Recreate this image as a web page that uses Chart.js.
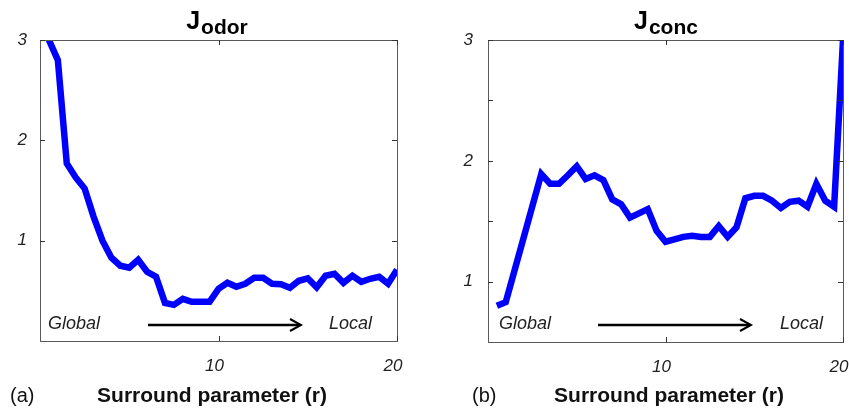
<!DOCTYPE html>
<html>
<head>
<meta charset="utf-8">
<script src="https://cdn.jsdelivr.net/npm/chart.js@4/dist/chart.umd.min.js"></script>
<style>
  html, body { margin: 0; padding: 0; background: #ffffff; }
  #wrap { position: relative; width: 849px; height: 412px; overflow: hidden; }
  canvas { position: absolute; top: 0; }
</style>
</head>
<body>
<div id="wrap">
  <canvas id="odor" style="left:0px;width:425px;height:412px"></canvas>
  <canvas id="conc" style="left:425px;width:424px;height:412px"></canvas>
</div>
<script>
// Surround parameter values (r)
const surround = [0.5, 1, 1.5, 2, 2.5, 3, 3.5, 4, 4.5, 5, 5.5, 6, 6.5, 7, 7.5, 8, 8.5, 9, 9.5, 10,
                  10.5, 11, 11.5, 12, 12.5, 13, 13.5, 14, 14.5, 15, 15.5, 16, 16.5, 17, 17.5, 18, 18.5, 19, 19.5, 20];

// Cost J_odor against r
const jOdor = [3.0, 2.80, 1.77, 1.63, 1.52, 1.24, 1.00, 0.83, 0.75, 0.73, 0.81, 0.69, 0.64, 0.38, 0.36, 0.42, 0.39, 0.39, 0.39, 0.52,
               0.58, 0.54, 0.57, 0.63, 0.63, 0.57, 0.565, 0.53, 0.60, 0.625, 0.535, 0.65, 0.67, 0.58, 0.65, 0.59, 0.62, 0.64, 0.57, 0.71];

// Cost J_conc against r
const jConc = [0.80, 0.83, 1.095, 1.36, 1.625, 1.89, 1.81, 1.81, 1.88, 1.955, 1.85, 1.88, 1.84, 1.68, 1.64, 1.53, 1.565, 1.60, 1.42, 1.33,
               1.35, 1.37, 1.38, 1.37, 1.37, 1.46, 1.37, 1.45, 1.69, 1.71, 1.71, 1.67, 1.61, 1.66, 1.67, 1.62, 1.81, 1.67, 1.62, 3.0];

// Tick positions
const xTicks = [10, 20];
const odorYTicks = [1, 2, 3];
const concYTicks = [1, 1.5, 2, 2.5, 3];

const FONT = "'Liberation Sans', Arial, sans-serif";

// Frame, inward tick marks, title with subscript, annotations and axis caption
const decorations = {
  id: 'decorations',
  afterDraw(chart, args, o) {
    const ctx = chart.ctx;
    const a = chart.chartArea;
    const xs = chart.scales.x, ys = chart.scales.y;
    ctx.save();

    // box
    ctx.strokeStyle = '#5a5a5a';
    ctx.lineWidth = 1;
    ctx.strokeRect(Math.round(a.left) + 0.5, Math.round(a.top) + 0.5,
                   Math.round(a.right - a.left), Math.round(a.bottom - a.top));

    // inward ticks on all four sides
    ctx.strokeStyle = '#333';
    ctx.beginPath();
    xs.ticks.forEach(t => {
      const px = Math.round(xs.getPixelForValue(t.value)) + 0.5;
      ctx.moveTo(px, a.bottom); ctx.lineTo(px, a.bottom - 5);
      ctx.moveTo(px, a.top); ctx.lineTo(px, a.top + 5);
    });
    ys.ticks.forEach(t => {
      const py = Math.round(ys.getPixelForValue(t.value)) + 0.5;
      ctx.moveTo(a.left, py); ctx.lineTo(a.left + 5, py);
      ctx.moveTo(a.right, py); ctx.lineTo(a.right - 5, py);
    });
    ctx.stroke();

    // title: J with bold subscript
    ctx.fillStyle = '#000';
    ctx.textBaseline = 'alphabetic';
    ctx.font = 'bold 25px ' + FONT;
    const wJ = ctx.measureText('J').width;
    ctx.font = 'bold 21px ' + FONT;
    const wS = ctx.measureText(o.sub).width;
    const cx = (a.left + a.right) / 2 + o.titleShift;
    const x0 = cx - (wJ + wS) / 2;
    ctx.font = 'bold 25px ' + FONT;
    ctx.textAlign = 'left';
    ctx.fillText('J', x0, 29);
    ctx.font = 'bold 21px ' + FONT;
    ctx.fillText(o.sub, x0 + wJ + 1, 34);

    // Global -> Local annotation
    ctx.fillStyle = '#222';
    ctx.font = 'italic 18px ' + FONT;
    ctx.textBaseline = 'middle';
    ctx.textAlign = 'left';
    ctx.fillText('Global', a.left + o.globalX, 324);
    ctx.textAlign = 'right';
    ctx.fillText('Local', a.left + o.localX, 324);

    const ax1 = a.left + o.arrowX1, ax2 = a.left + o.arrowX2, ay = 325;
    ctx.strokeStyle = '#000';
    ctx.lineWidth = 2.5;
    ctx.beginPath();
    ctx.moveTo(ax1, ay); ctx.lineTo(ax2 - 1, ay);
    ctx.stroke();
    ctx.lineWidth = 2;
    ctx.beginPath();
    ctx.moveTo(ax2 - 11, ay - 6); ctx.lineTo(ax2, ay); ctx.lineTo(ax2 - 11, ay + 6);
    ctx.stroke();

    // panel letter and axis caption
    ctx.fillStyle = '#111';
    ctx.textBaseline = 'alphabetic';
    ctx.textAlign = 'left';
    ctx.font = '20px ' + FONT;
    ctx.fillText(o.letter, o.letterX, 402);
    ctx.font = 'bold 21px ' + FONT;
    ctx.textAlign = 'center';
    ctx.fillText('Surround parameter (r)', o.captionX, 402);

    ctx.restore();
  }
};

function makeChart(id, values, yMin, yTicks, pad, yWidth, xHeight, labelPad, deco) {
  return new Chart(document.getElementById(id), {
    type: 'line',
    data: {
      datasets: [{
        data: surround.map((r, i) => ({ x: r, y: values[i] })),
        borderColor: '#0000ff',
        borderWidth: 6.5,
        pointRadius: 0,
        tension: 0,
        fill: false,
        clip: 0,
        borderJoinStyle: 'miter'
      }]
    },
    options: {
      responsive: false,
      animation: false,
      events: [],
      layout: { padding: pad },
      plugins: {
        legend: { display: false },
        tooltip: { enabled: false },
        title: { display: false },
        decorations: deco
      },
      scales: {
        x: {
          type: 'linear',
          min: 0, max: 20,
          grid: { display: false, drawTicks: false },
          border: { display: false },
          afterFit: s => { s.height = xHeight; s.paddingLeft = 0; s.paddingRight = 0; },
          afterBuildTicks: s => { s.ticks = xTicks.map(v => ({ value: v })); },
          ticks: {
            padding: 15,
            labelOffset: -4,
            color: '#222',
            font: { family: FONT, size: 17, style: 'italic' },
            maxRotation: 0,
            autoSkip: false,
            callback: v => String(v)
          }
        },
        y: {
          type: 'linear',
          min: yMin, max: 3,
          grid: { display: false, drawTicks: false },
          border: { display: false },
          afterFit: s => { s.width = yWidth; s.paddingTop = 0; s.paddingBottom = 0; },
          afterBuildTicks: s => { s.ticks = yTicks.map(v => ({ value: v })); },
          ticks: {
            padding: labelPad,
            color: '#222',
            autoSkip: false,
            font: { family: FONT, size: 17, style: 'italic' },
            callback: v => (Number.isInteger(v) ? String(v) : '')
          }
        }
      }
    },
    plugins: [decorations]
  });
}

const c1 = document.getElementById('odor');
c1.width = 425; c1.height = 412;
const c2 = document.getElementById('conc');
c2.width = 424; c2.height = 412;

makeChart('odor', jOdor, 0, odorYTicks,
  { left: 0, top: 40, right: 28, bottom: 0 }, 40, 71, 13,
  { sub: 'odor', titleShift: -2, globalX: 8, localX: 332, arrowX1: 108, arrowX2: 261,
    letter: '(a)', letterX: 10, captionX: 212 });

makeChart('conc', jConc, 0.5, concYTicks,
  { left: 0, top: 40, right: 6, bottom: 0 }, 63, 70, 15,
  { sub: 'conc', titleShift: 0, globalX: 11, localX: 335, arrowX1: 110, arrowX2: 263,
    letter: '(b)', letterX: 47, captionX: 244 });
</script>
</body>
</html>
